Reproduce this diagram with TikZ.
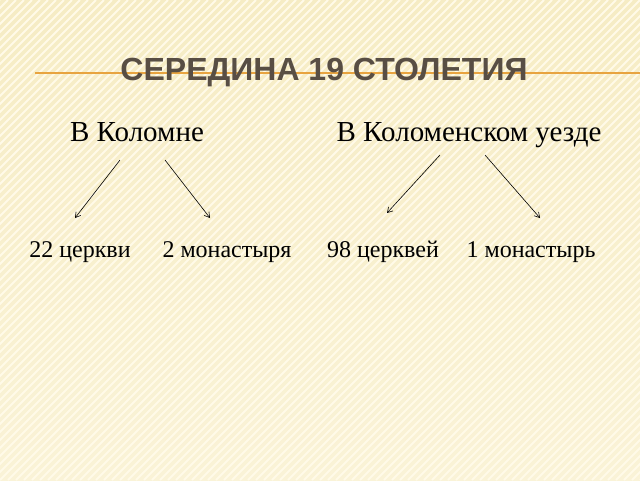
\documentclass[tikz,border=0pt]{standalone}
\usepackage{fontspec}
\setmainfont{Liberation Serif}
\newfontfamily\titlefont{Liberation Sans}
\usetikzlibrary{positioning,arrows.meta}
\definecolor{bgtop}{RGB}{246,236,196}
\definecolor{bgbot}{RGB}{250,243,215}
\definecolor{stripe}{RGB}{255,250,232}
\definecolor{titlegray}{RGB}{88,78,68}
\definecolor{rule}{RGB}{232,164,64}
\tikzset{
    x=1pt, y=-1pt,
    place/.style = {font=\fontsize{29}{32}\selectfont, inner sep=0pt, anchor=base},
    count/.style = {font=\fontsize{24}{27}\selectfont, inner sep=0pt, anchor=base},
    link/.style = {draw, line width=0.6pt, -{Straight Barb[length=5pt,width=6pt]}},
}
\begin{document}
\begin{tikzpicture}
    \useasboundingbox (0,0) rectangle (640,480);
    % background
    \shade[top color=bgtop, bottom color=bgbot] (0,0) rectangle (640,480);
    \begin{scope}
        \clip (0,0) rectangle (640,480);
        \foreach \s in {-480,-472,...,640}
            \draw[stripe, line width=2pt] (\s,480) -- (\s+480,0);
    \end{scope}
    % title
    \draw[rule, line width=1.2pt] (35,73) -- (640,73);
    \node[font=\titlefont\bfseries\fontsize{32}{34}\selectfont, text=titlegray, inner sep=0pt, anchor=base]
        (title) at (324,80) {СЕРЕДИНА 19 СТОЛЕТИЯ};
    % places
    \node[place] (town) at (137,141) {В Коломне};
    \node[place] (uezd) at (469,141) {В Коломенском уезде};
    % counts
    \node[count] (tchurch) at (80,257) {22 церкви};
    \node[count] (tmon) at (227,257) {2 монастыря};
    \node[count] (uchurch) at (383,257) {98 церквей};
    \node[count] (umon) at (531,257) {1 монастырь};
    \coordinate (t1) at (120,160);
    \coordinate (t2) at (165,160);
    \coordinate (u1) at (440,155);
    \coordinate (u2) at (485,155);
    \path[link] (t1) -- (75,218);
    \path[link] (t2) -- (210,218);
    \path[link] (u1) -- (387,213);
    \path[link] (u2) -- (540,218);
\end{tikzpicture}
\end{document}
